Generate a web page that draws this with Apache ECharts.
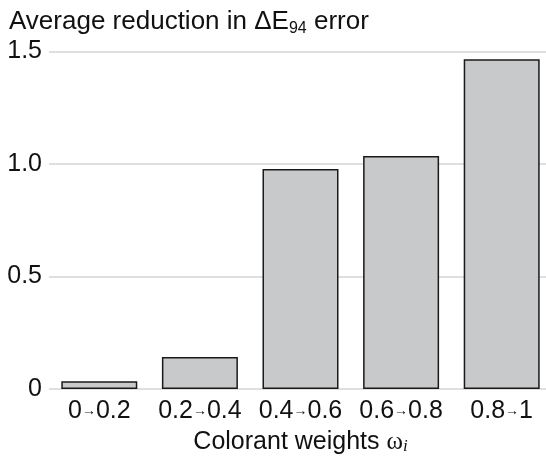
<!DOCTYPE html>
<html>
<head>
<meta charset="utf-8">
<script src="https://cdn.jsdelivr.net/npm/echarts@6/dist/echarts.min.js"></script>
<style>
html,body{margin:0;padding:0;background:#fff;}
#chart{width:546px;height:458px;}
</style>
</head>
<body>
<div id="chart"></div>
<script>
var categories = ['0{a|→}0.2', '0.2{a|→}0.4', '0.4{a|→}0.6', '0.6{a|→}0.8', '0.8{a|→}1'];
var reductionValues = [0.035, 0.142, 0.978, 1.036, 1.466];
var yTicks = [0, 0.5, 1.0, 1.5];

var FONT = '"Liberation Sans", Arial, sans-serif';
var SERIF = '"Liberation Serif", "DejaVu Serif", serif';
var chart = echarts.init(document.getElementById('chart'));
chart.setOption({
  animation: false,
  title: {
    text: 'Average reduction in ΔE{s|94} error',
    left: 4,
    top: 2,
    textStyle: {
      fontFamily: FONT, fontSize: 26, fontWeight: 'normal', color: '#111',
      lineHeight: 30,
      rich: {
        s: { fontFamily: FONT, fontSize: 16, color: '#111', verticalAlign: 'bottom', lineHeight: 16 }
      }
    }
  },
  grid: { left: 49, top: 51.5, width: 503, bottom: 69, containLabel: false, outerBoundsMode: 'none' },
  xAxis: {
    type: 'category',
    data: categories,
    axisLine: { show: false },
    axisTick: { show: false },
    axisLabel: {
      interval: 0,
      hideOverlap: false,
      margin: 10,
      fontFamily: FONT, fontSize: 25, color: '#111',
      rich: { a: { fontFamily: FONT, fontSize: 14, color: '#111' } }
    },
    name: 'Colorant weights {w|ω}{i|i}',
    nameLocation: 'middle',
    nameGap: 41,
    nameTextStyle: {
      fontFamily: FONT, fontSize: 25, color: '#111',
      rich: {
        w: { fontFamily: SERIF, fontSize: 25, color: '#111' },
        i: { fontFamily: SERIF, fontSize: 17, fontStyle: 'italic', color: '#111', verticalAlign: 'bottom', lineHeight: 16 }
      }
    }
  },
  yAxis: {
    type: 'value',
    min: yTicks[0],
    max: yTicks[yTicks.length - 1],
    interval: 0.5,
    axisLine: { show: false },
    axisTick: { show: false },
    splitLine: { lineStyle: { color: '#d4d4d4', width: 1.5 } },
    axisLabel: {
      margin: 7,
      fontFamily: FONT, fontSize: 25, color: '#111',
      formatter: function (v) { return v === 0 ? '0' : v.toFixed(1); }
    }
  },
  series: [{
    type: 'bar',
    data: reductionValues,
    barWidth: 76,
    itemStyle: { color: '#c8c9cb', borderColor: '#1a1a1a', borderWidth: 1.5 }
  }]
});
</script>
</body>
</html>
